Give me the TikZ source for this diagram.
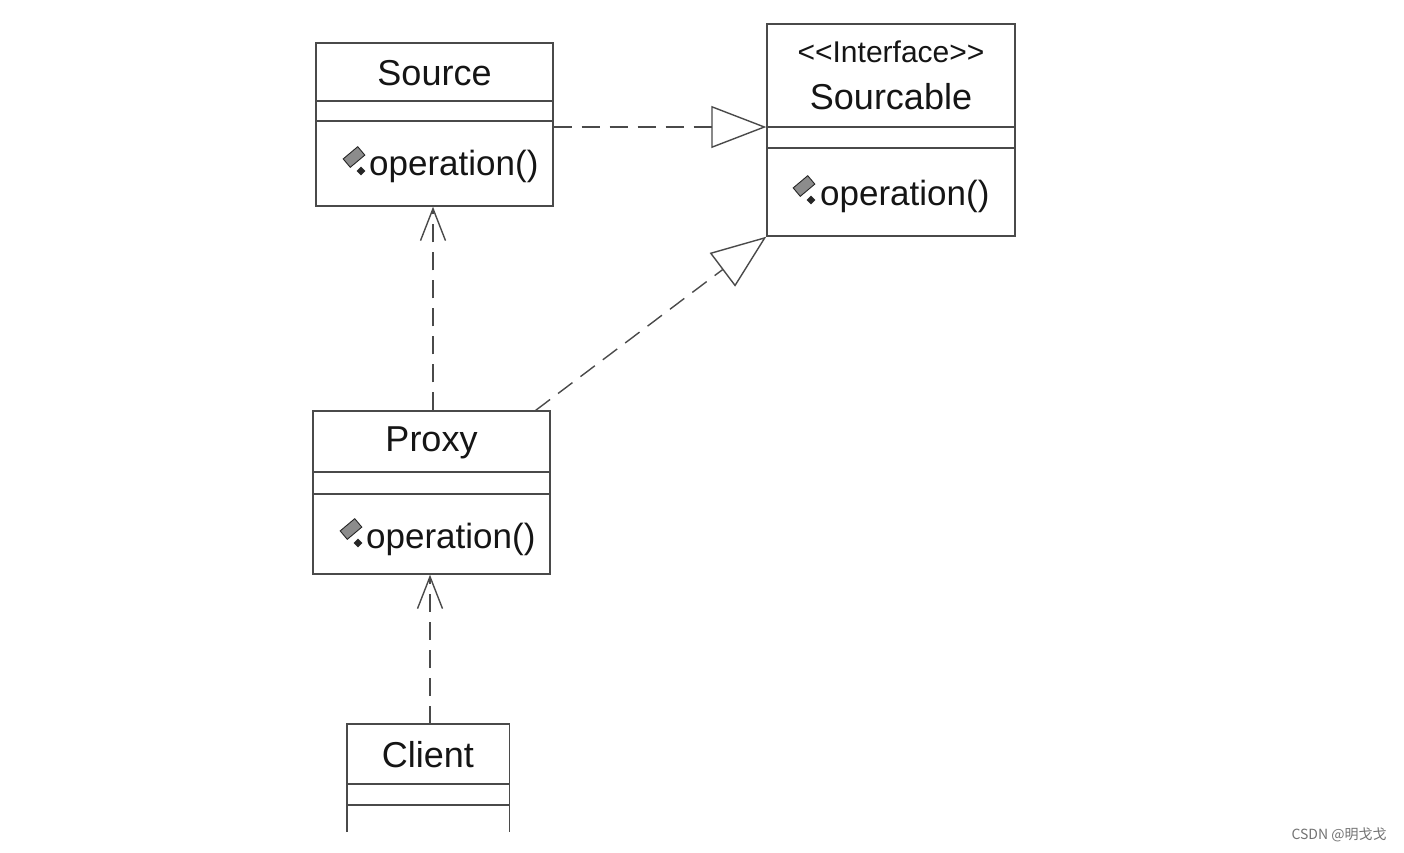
\documentclass[tikz,border=0pt]{standalone}
\usepackage{fontspec}
\setmainfont{Liberation Sans}
\newfontfamily\cjk{Noto Sans CJK SC}
\usetikzlibrary{arrows.meta,shapes.geometric,calc}
\definecolor{ln}{HTML}{4A4A4A}
\definecolor{tx}{HTML}{151515}
\tikzset{
  classbox/.style={draw=ln, line width=1.4pt, inner sep=0pt},
  divider/.style={draw=ln, line width=1.4pt},
  ttl/.style={font=\fontsize{36}{40}\selectfont, text=tx, inner sep=0pt},
  stereo/.style={font=\fontsize{30}{34}\selectfont, text=tx, inner sep=0pt},
  op/.style={font=\fontsize{35}{40}\selectfont, text=tx, inner sep=0pt, anchor=west},
  opicon/.style={rectangle, rotate=40, minimum width=19pt, minimum height=11pt, inner sep=0pt, fill=black!45, draw=black!85, line width=0.9pt},
  opdot/.style={diamond, minimum size=9pt, inner sep=0pt, fill=black!85},
  dep/.style={draw=ln, line width=1.4pt, dash pattern=on 18pt off 10pt, -{Straight Barb[length=32pt,width=25pt,line width=1.4pt]}},
  real/.style={draw=ln, line width=1.4pt, dash pattern=on 18pt off 10pt, -{Triangle[open,length=55pt,width=42pt,line width=1.4pt,fill=white]}},
}
\begin{document}
\begin{tikzpicture}[x=1pt,y=-1pt]
\useasboundingbox[fill=white] (0,0) rectangle (1404,852);

% Source
\node[classbox, minimum width=237pt, minimum height=163pt] (source) at (434.5,124.5) {};
\draw[divider] (source.west |- 0,101) -- (source.east |- 0,101);
\draw[divider] (source.west |- 0,121) -- (source.east |- 0,121);
\node[ttl] (sourcet) at (434.5,73) {Source};
\node[opicon] (si1) at (354,157) {};
\node[opdot] (si2) at (361,171) {};
\node[op] (sop) at (369,166) {operation()};

% Sourcable
\node[classbox, minimum width=248pt, minimum height=212pt] (sourcable) at (891,130) {};
\draw[divider] (sourcable.west |- 0,127) -- (sourcable.east |- 0,127);
\draw[divider] (sourcable.west |- 0,148) -- (sourcable.east |- 0,148);
\node[stereo] (stereo) at (891,52) {<{}<Interface>{}>};
\node[ttl] (sourcablet) at (891,97) {Sourcable};
\node[opicon] (ai1) at (804,186) {};
\node[opdot] (ai2) at (811,200) {};
\node[op] (aop) at (820,196) {operation()};

% Proxy
\node[classbox, minimum width=237pt, minimum height=163pt] (proxy) at (431.5,492.5) {};
\draw[divider] (proxy.west |- 0,472) -- (proxy.east |- 0,472);
\draw[divider] (proxy.west |- 0,494) -- (proxy.east |- 0,494);
\node[ttl] (proxyt) at (431.5,443) {Proxy};
\node[opicon] (pi1) at (351,529) {};
\node[opdot] (pi2) at (358,543) {};
\node[op] (pop) at (366,539) {operation()};

% Client (cut at bottom)
\node[inner sep=0pt, minimum width=162pt, minimum height=108pt] (client) at (428,778) {};
\draw[divider] (client.south west) -- (client.north west) -- (client.north east) -- (client.south east);
\draw[divider] (client.west |- 0,784) -- (client.east |- 0,784);
\draw[divider] (client.west |- 0,805) -- (client.east |- 0,805);
\node[ttl] (clientt) at (428,755) {Client};

% connectors
\coordinate (srcR) at (source.east |- 0,127);
\coordinate (scbL) at (sourcable.west |- 0,127);
\draw[real] (srcR) -- (scbL);
\coordinate (pxTR) at ($(proxy.north east)+(-15,0)$);
\draw[real] (pxTR) -- (sourcable.south west);
\coordinate (pxT) at (proxy.north -| 433,0);
\coordinate (srcB) at (source.south -| 433,0);
\draw[dep] (pxT) -- (srcB);
\coordinate (clT) at (client.north -| 430,0);
\coordinate (pxB) at (proxy.south -| 430,0);
\draw[dep] (clT) -- (pxB);

% watermark
\node[font=\cjk\fontsize{14}{16}\selectfont, text=black!55, inner sep=0pt] (wm) at (1339,835) {CSDN @明戈戈};
\end{tikzpicture}
\end{document}
